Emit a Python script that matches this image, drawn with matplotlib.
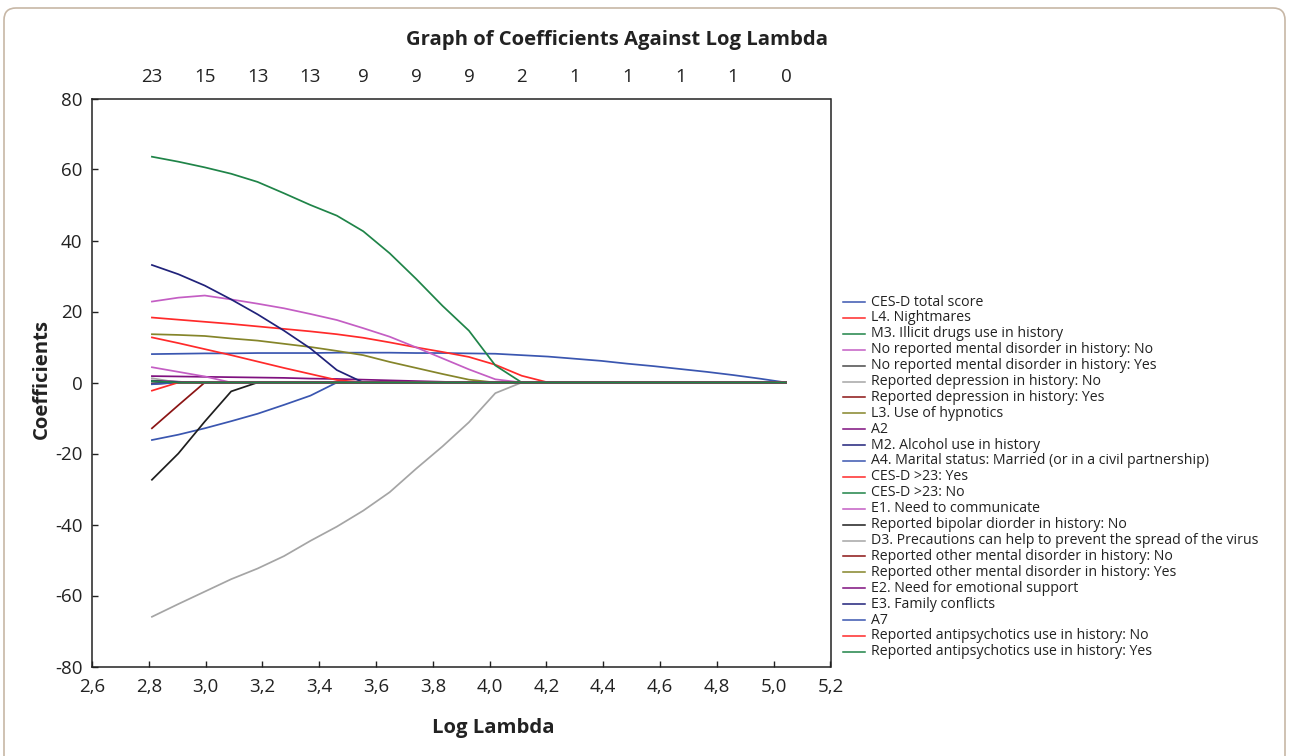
import matplotlib
matplotlib.use('Agg')
import matplotlib.pyplot as plt
from matplotlib.patches import FancyBboxPatch
from matplotlib.lines import Line2D
from matplotlib.transforms import IdentityTransform

plt.rcParams['font.family'] = ['Open Sans', 'DejaVu Sans']

# ---------------- data ----------------
log_lambda = [2.811, 2.904, 2.997, 3.090, 3.183, 3.276, 3.369, 3.462, 3.555,
              3.648, 3.741, 3.834, 3.927, 4.020, 4.113, 4.206, 4.299, 4.392,
              4.485, 4.578, 4.671, 4.764, 4.857, 4.950, 5.043]
top_counts = [23, 15, 13, 13, 9, 9, 9, 2, 1, 1, 1, 1, 0]

labels = [
    "CES-D total score",
    "L4. Nightmares",
    "M3. Illicit drugs use in history",
    "No reported mental disorder in history: No",
    "No reported mental disorder in history: Yes",
    "Reported depression in history: No",
    "Reported depression in history: Yes",
    "L3. Use of hypnotics",
    "A2",
    "M2. Alcohol use in history",
    "A4. Marital status: Married (or in a civil partnership)",
    "CES-D >23: Yes",
    "CES-D >23: No",
    "E1. Need to communicate",
    "Reported bipolar diorder in history: No",
    "D3. Precautions can help to prevent the spread of the virus",
    "Reported other mental disorder in history: No",
    "Reported other mental disorder in history: Yes",
    "E2. Need for emotional support",
    "E3. Family conflicts",
    "A7",
    "Reported antipsychotics use in history: No",
    "Reported antipsychotics use in history: Yes",
]

ces_d_total = [8.0, 8.1, 8.2, 8.2, 8.3, 8.3, 8.3, 8.4, 8.4, 8.4, 8.3, 8.3, 8.2,
               8.1, 7.7, 7.3, 6.7, 6.1, 5.3, 4.6, 3.8, 3.0, 2.1, 1.1, 0.0]
l4_nightmares = [18.3, 17.7, 17.1, 16.5, 15.8, 15.1, 14.4, 13.6, 12.6, 11.3, 9.9,
                 8.6, 7.2, 5.0, 1.9, 0, 0, 0, 0, 0, 0, 0, 0, 0, 0]
m3_drugs = [63.6, 62.2, 60.6, 58.8, 56.5, 53.3, 50.0, 47.0, 42.6, 36.4, 29.2,
            21.6, 14.6, 4.8, 0, 0, 0, 0, 0, 0, 0, 0, 0, 0, 0]
no_md_no = [22.8, 23.9, 24.5, 23.4, 22.2, 20.9, 19.3, 17.6, 15.3, 12.9, 9.9,
            6.8, 3.7, 0.9, 0, 0, 0, 0, 0, 0, 0, 0, 0, 0, 0]
no_md_yes = [0.5, 0.2, 0, 0, 0, 0, 0, 0, 0, 0, 0, 0, 0, 0, 0, 0, 0, 0, 0, 0,
             0, 0, 0, 0, 0]
dep_no = [-66.0, -62.4, -58.9, -55.4, -52.4, -48.9, -44.6, -40.6, -36.1, -30.9,
          -24.3, -18.0, -11.2, -3.0, 0, 0, 0, 0, 0, 0, 0, 0, 0, 0, 0]
dep_yes = [-12.9, -6.4, 0, 0, 0, 0, 0, 0, 0, 0, 0, 0, 0, 0, 0, 0, 0, 0, 0, 0,
           0, 0, 0, 0, 0]
l3_hypnotics = [13.6, 13.4, 13.1, 12.4, 11.8, 10.9, 10.0, 8.9, 7.7, 5.8, 4.1,
                2.4, 0.8, 0, 0, 0, 0, 0, 0, 0, 0, 0, 0, 0, 0]
a2 = [1.8, 1.7, 1.6, 1.5, 1.4, 1.3, 1.1, 1.0, 0.8, 0.6, 0.4, 0.2, 0, 0, 0, 0,
      0, 0, 0, 0, 0, 0, 0, 0, 0]
m2_alcohol = [33.1, 30.5, 27.3, 23.4, 19.2, 14.6, 9.6, 3.5, 0, 0, 0, 0, 0, 0,
              0, 0, 0, 0, 0, 0, 0, 0, 0, 0, 0]
a4_married = [-16.2, -14.7, -12.9, -10.9, -8.8, -6.3, -3.7, 0, 0, 0, 0, 0, 0,
              0, 0, 0, 0, 0, 0, 0, 0, 0, 0, 0, 0]
cesd23_yes = [12.7, 11.1, 9.4, 7.7, 5.9, 4.1, 2.4, 0.7, 0, 0, 0, 0, 0, 0, 0,
              0, 0, 0, 0, 0, 0, 0, 0, 0, 0]
cesd23_no = [-0.3, 0, 0, 0, 0, 0, 0, 0, 0, 0, 0, 0, 0, 0, 0, 0, 0, 0, 0, 0, 0,
             0, 0, 0, 0]
e1_communicate = [4.3, 3.0, 1.7, 0, 0, 0, 0, 0, 0, 0, 0, 0, 0, 0, 0, 0, 0, 0,
                  0, 0, 0, 0, 0, 0, 0]
bipolar_no = [-27.4, -20.0, -11.0, -2.5, 0, 0, 0, 0, 0, 0, 0, 0, 0, 0, 0, 0,
              0, 0, 0, 0, 0, 0, 0, 0, 0]
d3_precautions = [1.2, 0, 0, 0, 0, 0, 0, 0, 0, 0, 0, 0, 0, 0, 0, 0, 0, 0, 0,
                  0, 0, 0, 0, 0, 0]
other_md_no = [-0.4, 0, 0, 0, 0, 0, 0, 0, 0, 0, 0, 0, 0, 0, 0, 0, 0, 0, 0, 0,
               0, 0, 0, 0, 0]
other_md_yes = [0.3, 0, 0, 0, 0, 0, 0, 0, 0, 0, 0, 0, 0, 0, 0, 0, 0, 0, 0, 0,
                0, 0, 0, 0, 0]
e2_support = [0.5, 0.2, 0, 0, 0, 0, 0, 0, 0, 0, 0, 0, 0, 0, 0, 0, 0, 0, 0, 0,
              0, 0, 0, 0, 0]
e3_family = [0.3, 0, 0, 0, 0, 0, 0, 0, 0, 0, 0, 0, 0, 0, 0, 0, 0, 0, 0, 0, 0,
             0, 0, 0, 0]
a7 = [-0.5, 0, 0, 0, 0, 0, 0, 0, 0, 0, 0, 0, 0, 0, 0, 0, 0, 0, 0, 0, 0, 0, 0,
      0, 0]
antipsych_no = [-2.3, 0, 0, 0, 0, 0, 0, 0, 0, 0, 0, 0, 0, 0, 0, 0, 0, 0, 0, 0,
                0, 0, 0, 0, 0]
antipsych_yes = [0.4, 0, 0, 0, 0, 0, 0, 0, 0, 0, 0, 0, 0, 0, 0, 0, 0, 0, 0, 0,
                 0, 0, 0, 0, 0]

series = [ces_d_total, l4_nightmares, m3_drugs, no_md_no, no_md_yes, dep_no,
          dep_yes, l3_hypnotics, a2, m2_alcohol, a4_married, cesd23_yes,
          cesd23_no, e1_communicate, bipolar_no, d3_precautions, other_md_no,
          other_md_yes, e2_support, e3_family, a7, antipsych_no, antipsych_yes]

# ---------------- style ----------------
BLUE = '#3a56b0'
RED = '#ff2a2a'
GREEN = '#1f8448'
ORCHID = '#c45ec4'
DGRAY = '#4a4a4a'
LGRAY = '#a5a5a5'
DRED = '#8b1414'
OLIVE = '#85852a'
PURPLE = '#7f107f'
NAVY = '#20227a'
BLACK = '#1e1e1e'
colors = [BLUE, RED, GREEN, ORCHID, DGRAY, LGRAY, DRED, OLIVE, PURPLE, NAVY,
          BLUE, RED, GREEN, ORCHID, BLACK, LGRAY, DRED, OLIVE, PURPLE, NAVY,
          BLUE, RED, GREEN]

W, H = 1290, 756
fig = plt.figure(figsize=(W / 100, H / 100), dpi=100)
fig.patch.set_facecolor('white')

# rounded frame around the figure
frame = FancyBboxPatch((4, -30), 1281, H - 8 + 30,
                       boxstyle='round,pad=0,rounding_size=12',
                       transform=IdentityTransform(), facecolor='none',
                       edgecolor='#c7b7a6', linewidth=1.2)
fig.add_artist(frame)

L, R, T, B = 92, 830.5, 98.5, 666.5
ax = fig.add_axes([L / W, 1 - B / H, (R - L) / W, (B - T) / H])
for vals, c in zip(series, colors):
    ax.plot(log_lambda, vals, color=c, lw=1.25)

ax.set_xlim(2.6, 5.2)
ax.set_ylim(-80, 80)
xt = [2.6 + 0.2 * k for k in range(14)]
ax.set_xticks(xt)
ax.set_xticklabels([f"{v:.1f}".replace('.', ',') for v in xt])
yt = list(range(-80, 81, 20))
ax.set_yticks(yt)
ax.set_yticklabels([str(v) for v in yt])
ax.tick_params(direction='in', length=4, width=1, labelsize=13.5,
               colors='#222222', labelcolor='#222222')
ax.tick_params(axis='x', pad=8)
ax.tick_params(axis='y', pad=7)
for sp in ax.spines.values():
    sp.set_linewidth(1.1)
    sp.set_color('#222222')

ax2 = ax.twiny()
ax2.set_xlim(ax.get_xlim())
ax2.set_xticks(log_lambda[::2])
ax2.set_xticklabels([str(c) for c in top_counts])
ax2.tick_params(length=0, labelsize=13.5, pad=9, labelcolor='#222222')
for sp in ax2.spines.values():
    sp.set_visible(False)

fig.text(617 / W, 1 - 40 / H, "Graph of Coefficients Against Log Lambda",
         ha='center', va='center', fontsize=14.6, fontweight='bold',
         color='#222222')
fig.text(493 / W, 1 - 728 / H, "Log Lambda", ha='center', va='center',
         fontsize=14.6, fontweight='bold', color='#222222')
fig.text(42 / W, 1 - 379 / H, "Coefficients", ha='center', va='center',
         rotation=90, fontsize=14.6, fontweight='bold', color='#222222')

# legend (manual)
for i, (lab, c) in enumerate(zip(labels, colors)):
    y = 1 - (302 + i * 15.9) / H
    fig.add_artist(Line2D([843 / W, 865 / W], [y, y], transform=fig.transFigure,
                          color=c, lw=1.1))
    fig.text(871 / W, y, lab, ha='left', va='center', fontsize=10.2,
             color='#222222')

fig.savefig('out.png', dpi=100)
